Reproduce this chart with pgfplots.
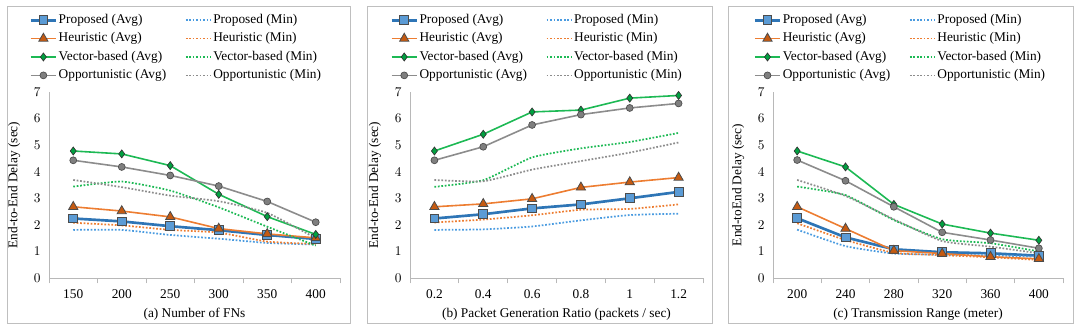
\documentclass[border=0pt]{standalone}
\usepackage{fontspec}
\setmainfont{Liberation Serif}
\usepackage{pgfplots}
\pgfplotsset{compat=1.18}
\definecolor{cBlue}{HTML}{2E75B6}
\definecolor{cBlueF}{HTML}{5B9BD5}
\definecolor{cBlueD}{HTML}{4A9BE0}
\definecolor{cOr}{HTML}{ED7D31}
\definecolor{cOrF}{HTML}{C55A11}
\definecolor{cGr}{HTML}{1DB954}
\definecolor{cGrF}{HTML}{00A040}
\definecolor{cGy}{HTML}{8C8C8C}
\definecolor{cGyF}{HTML}{7F7F7F}
\definecolor{frame}{HTML}{BFBFBF}
\definecolor{axc}{HTML}{B8B8B8}
\pgfplotsset{
  panel/.style={
    scale only axis, width=#1, height=139.5pt,
    xmin=-0.5, xmax=5.5, ymin=0, ymax=7,
    axis x line*=bottom, axis y line*=left,
    axis line style={axc, line width=0.6pt},
    xtick={0,...,5}, ytick={0,...,7},
    minor xtick={-0.5,0.5,...,5.5},
    major x tick style={draw=none},
    major y tick style={draw=none},
    minor tick length=4pt, tick align=outside,
    minor x tick style={axc, line width=0.6pt},
    tick label style={font=\fontsize{10}{12}\selectfont, text=black},
    label style={font=\fontsize{10}{12}\selectfont},
    ylabel={End-to-End Delay (sec)},
    ylabel style={at={(axis description cs:-0.083,0.5)}},
    xlabel style={yshift=0pt},
    xticklabel style={yshift=-1pt},
    yticklabel style={xshift=1.5pt},
    clip=false,
    legend columns=2,
    legend image code/.code={
      \draw[##1, mark=none] (0pt,0pt) -- (19pt,0pt);
      \draw[##1, only marks] plot coordinates {(9.5pt,0pt)};},
    legend style={draw=none, fill=none, font=\fontsize{10}{12}\selectfont,
      at={(axis description cs:-0.082,1.445)}, anchor=north west,
      nodes={inner sep=1pt, text height=7.5pt, text depth=2.5pt},
      row sep=1.8pt,
      /tikz/every even column/.append style={column sep=13pt}},
    legend cell align=left,
  },
  avgB/.style={cBlue, line width=2pt, mark=square*, mark size=3.3pt, mark options={fill=cBlueF, draw=black!70, line width=0.6pt}},
  avgO/.style={cOr, line width=1.2pt, mark=triangle*, mark size=4pt, mark options={fill=cOrF, draw=black!70, line width=0.6pt}},
  avgG/.style={cGr, line width=1.2pt, mark=diamond*, mark size=3pt, mark options={fill=cGrF, draw=black!80, line width=0.5pt}},
  avgY/.style={cGy, line width=1.2pt, mark=*, mark size=2.6pt, mark options={fill=cGyF, draw=black!70, line width=0.5pt}},
  minS/.style={line width=1.3pt, dash pattern=on 1.3pt off 1.3pt, no marks, smooth, tension=0.3},
}
\begin{document}
\begin{tikzpicture}[x=1pt,y=1pt]
\useasboundingbox (0,0) rectangle (810,247.5);
\draw[frame, line width=0.7pt] (5.25,5.25) rectangle (262.5,243);
\draw[frame, line width=0.7pt] (275.25,5.25) rectangle (534,243);
\draw[frame, line width=0.7pt] (546,5.25) rectangle (804.75,243);

% ---------- (a)
\begin{axis}[panel=218.25pt, at={(36.75pt,39pt)}, anchor=south west,
  xticklabels={150,200,250,300,350,400},
  xlabel={(a) Number of FNs}]
\addplot[avgB] coordinates {(0,2.24)(1,2.13)(2,1.95)(3,1.80)(4,1.62)(5,1.47)};
\addlegendentry{Proposed (Avg)}
\addplot[minS, cBlueD] coordinates {(0,1.81)(1,1.81)(2,1.62)(3,1.48)(4,1.32)(5,1.26)};
\addlegendentry{Proposed (Min)}
\addplot[avgO] coordinates {(0,2.68)(1,2.52)(2,2.30)(3,1.86)(4,1.66)(5,1.51)};
\addlegendentry{Heuristic (Avg)}
\addplot[minS, cOr] coordinates {(0,2.08)(1,1.98)(2,1.81)(3,1.71)(4,1.37)(5,1.28)};
\addlegendentry{Heuristic (Min)}
\addplot[avgG] coordinates {(0,4.78)(1,4.67)(2,4.23)(3,3.15)(4,2.31)(5,1.64)};
\addlegendentry{Vector-based (Avg)}
\addplot[minS, cGr] coordinates {(0,3.44)(1,3.63)(2,3.29)(3,2.66)(4,1.93)(5,1.22)};
\addlegendentry{Vector-based (Min)}
\addplot[avgY] coordinates {(0,4.43)(1,4.18)(2,3.86)(3,3.46)(4,2.88)(5,2.10)};
\addlegendentry{Opportunistic (Avg)}
\addplot[minS, cGy] coordinates {(0,3.69)(1,3.42)(2,3.10)(3,2.89)(4,2.45)(5,1.50)};
\addlegendentry{Opportunistic (Min)}
\end{axis}

% ---------- (b)
\begin{axis}[panel=219.75pt, at={(307.5pt,39pt)}, anchor=south west,
  xticklabels={0.2,0.4,0.6,0.8,1,1.2},
  xlabel={(b) Packet Generation Ratio (packets / sec)}]
\addplot[avgB] coordinates {(0,2.24)(1,2.40)(2,2.62)(3,2.77)(4,3.00)(5,3.24)};
\addlegendentry{Proposed (Avg)}
\addplot[minS, cBlueD] coordinates {(0,1.81)(1,1.83)(2,1.94)(3,2.17)(4,2.37)(5,2.42)};
\addlegendentry{Proposed (Min)}
\addplot[avgO] coordinates {(0,2.68)(1,2.79)(2,2.98)(3,3.41)(4,3.61)(5,3.78)};
\addlegendentry{Heuristic (Avg)}
\addplot[minS, cOr] coordinates {(0,2.09)(1,2.20)(2,2.36)(3,2.57)(4,2.60)(5,2.77)};
\addlegendentry{Heuristic (Min)}
\addplot[avgG] coordinates {(0,4.78)(1,5.41)(2,6.25)(3,6.32)(4,6.77)(5,6.87)};
\addlegendentry{Vector-based (Avg)}
\addplot[minS, cGr] coordinates {(0,3.43)(1,3.68)(2,4.54)(3,4.88)(4,5.12)(5,5.46)};
\addlegendentry{Vector-based (Min)}
\addplot[avgY] coordinates {(0,4.43)(1,4.94)(2,5.76)(3,6.15)(4,6.40)(5,6.57)};
\addlegendentry{Opportunistic (Avg)}
\addplot[minS, cGy] coordinates {(0,3.69)(1,3.64)(2,4.08)(3,4.40)(4,4.72)(5,5.10)};
\addlegendentry{Opportunistic (Min)}
\end{axis}

% ---------- (c)
\begin{axis}[panel=217.5pt, at={(579.75pt,39pt)}, anchor=south west,
  xticklabels={200,240,280,320,360,400},
  ylabel={End-toEnd Delay (sec)},
  xlabel={(c) Transmission Range (meter)}]
\addplot[avgB] coordinates {(0,2.25)(1,1.53)(2,1.08)(3,0.97)(4,0.93)(5,0.84)};
\addlegendentry{Proposed (Avg)}
\addplot[minS, cBlueD] coordinates {(0,1.82)(1,1.20)(2,0.92)(3,0.88)(4,0.85)(5,0.80)};
\addlegendentry{Proposed (Min)}
\addplot[avgO] coordinates {(0,2.68)(1,1.86)(2,1.03)(3,0.92)(4,0.80)(5,0.72)};
\addlegendentry{Heuristic (Avg)}
\addplot[minS, cOr] coordinates {(0,2.06)(1,1.43)(2,0.95)(3,0.86)(4,0.78)(5,0.68)};
\addlegendentry{Heuristic (Min)}
\addplot[avgG] coordinates {(0,4.78)(1,4.18)(2,2.77)(3,2.03)(4,1.69)(5,1.42)};
\addlegendentry{Vector-based (Avg)}
\addplot[minS, cGr] coordinates {(0,3.44)(1,3.12)(2,2.18)(3,1.46)(4,1.31)(5,1.00)};
\addlegendentry{Vector-based (Min)}
\addplot[avgY] coordinates {(0,4.44)(1,3.66)(2,2.68)(3,1.72)(4,1.43)(5,1.12)};
\addlegendentry{Opportunistic (Avg)}
\addplot[minS, cGy] coordinates {(0,3.69)(1,3.09)(2,2.21)(3,1.39)(4,1.18)(5,0.93)};
\addlegendentry{Opportunistic (Min)}
\end{axis}
\end{tikzpicture}
\end{document}
